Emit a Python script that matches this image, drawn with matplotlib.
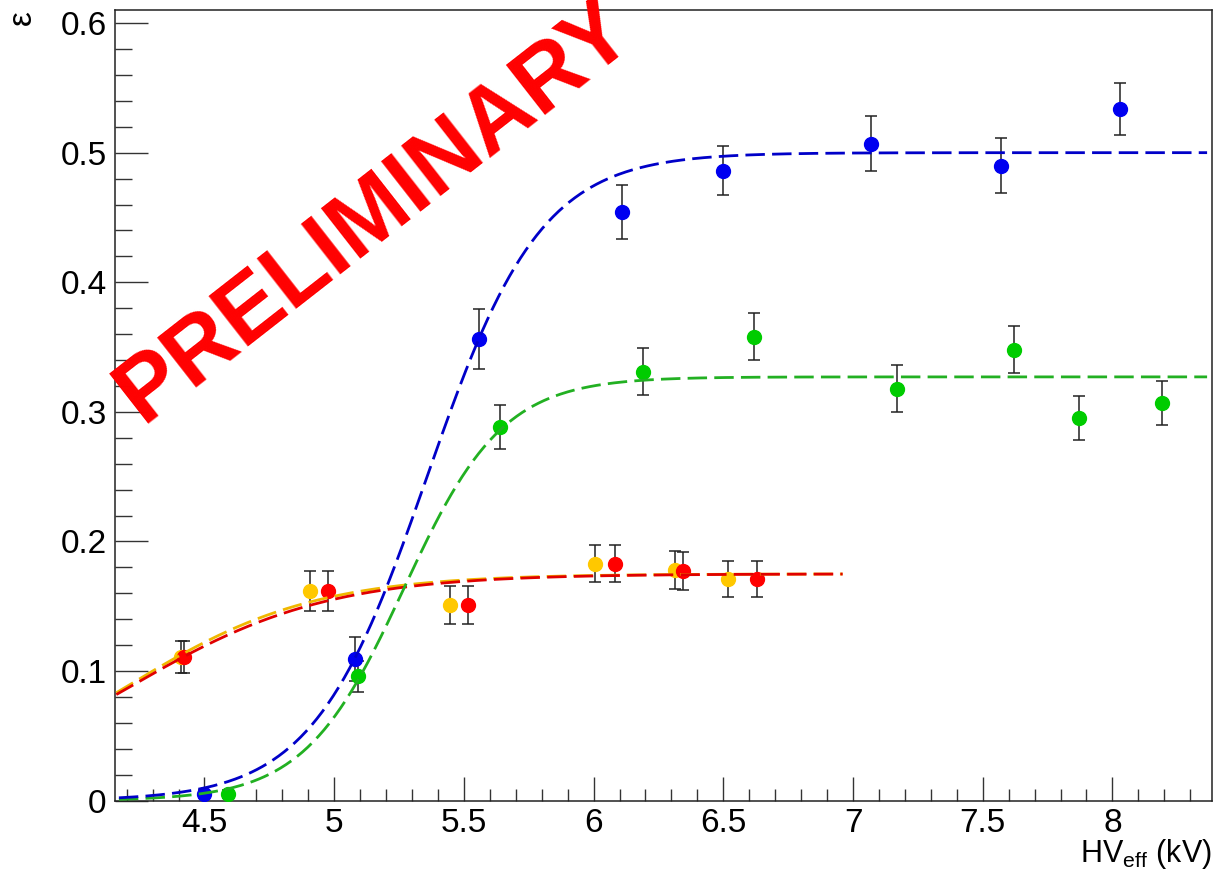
import numpy as np
import matplotlib
matplotlib.use("Agg")
import matplotlib.pyplot as plt
from matplotlib.ticker import MultipleLocator, FuncFormatter

plt.rcParams['font.family'] = ['Liberation Sans', 'DejaVu Sans']
plt.rcParams['mathtext.fontset'] = 'custom'
plt.rcParams['mathtext.rm'] = 'Liberation Sans'
plt.rcParams['mathtext.it'] = 'Liberation Sans:italic'

# Measured efficiency vs effective high voltage
hv_blue = [4.50, 5.08, 5.56, 6.11, 6.50, 7.07, 7.57, 8.03]
eff_blue = [0.005, 0.109, 0.356, 0.454, 0.486, 0.507, 0.490, 0.534]
err_blue = [0.003, 0.017, 0.023, 0.021, 0.019, 0.021, 0.021, 0.020]

hv_green = [4.59, 5.09, 5.64, 6.19, 6.62, 7.17, 7.62, 7.87, 8.19]
eff_green = [0.005, 0.096, 0.288, 0.331, 0.358, 0.318, 0.348, 0.295, 0.307]
err_green = [0.003, 0.012, 0.017, 0.018, 0.018, 0.018, 0.018, 0.017, 0.017]

hv_yellow = [4.41, 4.905, 5.446, 6.005, 6.313, 6.517]
eff_yellow = [0.111, 0.162, 0.151, 0.183, 0.178, 0.171]
err_yellow = [0.0125, 0.0155, 0.0145, 0.0145, 0.0145, 0.014]

hv_red = [4.42, 4.975, 5.515, 6.082, 6.345, 6.631]
eff_red = [0.111, 0.162, 0.151, 0.183, 0.177, 0.171]
err_red = [0.0125, 0.0155, 0.0145, 0.0145, 0.0145, 0.014]

# Sigmoid fit parameters: plateau, slope, HV at 50 %, fit range
fit_blue = (0.500, 4.55, 5.358, 4.17, 8.365)
fit_green = (0.327, 5.23, 5.268, 4.17, 8.365)
fit_yellow = (0.175, 2.75, 4.195, 4.16, 6.96)
fit_red = (0.175, 2.62, 4.209, 4.16, 6.96)

x_ticks = [4.5, 5, 5.5, 6, 6.5, 7, 7.5, 8]
y_ticks = [0, 0.1, 0.2, 0.3, 0.4, 0.5, 0.6]


def sigmoid(x, plateau, slope, hv50):
    return plateau / (1.0 + np.exp(-slope * (x - hv50)))


fig = plt.figure(figsize=(12.15, 8.73), dpi=100)
ax = fig.add_axes([115 / 1215, 1 - 800.7 / 873, (1211.5 - 115) / 1215, (800.7 - 9.7) / 873])

series = [
    (hv_yellow, eff_yellow, err_yellow, fit_yellow, '#ffc800', '#f0b800'),
    (hv_red, eff_red, err_red, fit_red, '#ff0000', '#e00000'),
    (hv_green, eff_green, err_green, fit_green, '#00cc00', '#22b022'),
    (hv_blue, eff_blue, err_blue, fit_blue, '#0000f0', '#0000c8'),
]

for hv, eff, err, fit, mcol, lcol in series:
    ax.errorbar(hv, eff, yerr=err, fmt='o', color=mcol, markersize=10,
                ecolor='#222222', elinewidth=1.1, capsize=4, capthick=1.1,
                zorder=3)

for hv, eff, err, fit, mcol, lcol in series:
    plateau, slope, hv50, lo, hi = fit
    xs = np.linspace(lo, hi, 600)
    ax.plot(xs, sigmoid(xs, plateau, slope, hv50), color=lcol, lw=2.0,
            dashes=(7, 2.6), zorder=4)

ax.set_xlim(4.155, 8.382)
ax.set_ylim(0, 0.6103)

ax.set_xticks(x_ticks)
ax.set_yticks(y_ticks)
ax.xaxis.set_minor_locator(MultipleLocator(0.1))
ax.yaxis.set_minor_locator(MultipleLocator(0.02))
ax.xaxis.set_major_formatter(FuncFormatter(lambda v, p: f"{v:g}"))
ax.yaxis.set_major_formatter(FuncFormatter(lambda v, p: f"{v:g}"))

ax.tick_params(axis='both', which='both', direction='in', top=False, right=False,
               color='#333333', width=1.0, labelsize=24)
ax.tick_params(axis='y', which='major', length=24, pad=6)
ax.tick_params(axis='y', which='minor', length=12)
ax.tick_params(axis='x', which='major', length=17, pad=5)
ax.tick_params(axis='x', which='minor', length=9)

for sp in ax.spines.values():
    sp.set_linewidth(1.1)
    sp.set_color('#222222')

fig.text(1212 / 1215, 1 - 862 / 873, r'HV$_{\mathrm{eff}}$ (kV)', ha='right',
         va='baseline', fontsize=22)
fig.text(22 / 1215, 1 - 18 / 873, 'ε', rotation=90, ha='center', va='center',
         fontsize=24)

fig.text(390 / 1215, 1 - 230 / 873, 'PRELIMINARY', color='#ff0000',
         fontsize=66, fontweight='bold', family='Liberation Sans', rotation=38,
         ha='center', va='baseline', rotation_mode='anchor', zorder=10)

fig.savefig('out.png', dpi=100)
